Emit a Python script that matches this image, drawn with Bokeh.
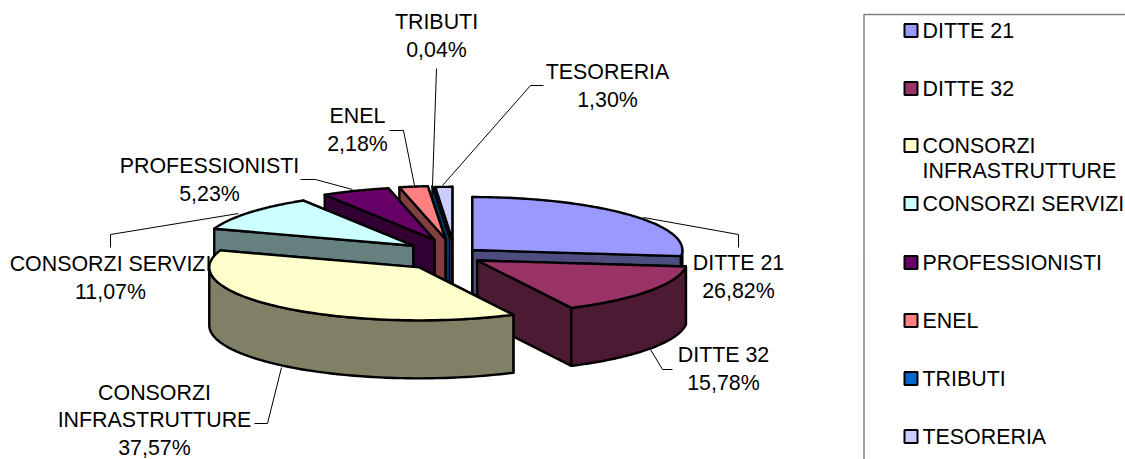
import numpy as np
from bokeh.plotting import figure
from bokeh.embed import file_html
from bokeh.resources import INLINE
from bokeh.core.properties import value

# ---- data ----
categories = ["DITTE 21", "DITTE 32", "CONSORZI INFRASTRUTTURE", "CONSORZI SERVIZI",
              "PROFESSIONISTI", "ENEL", "TRIBUTI", "TESORERIA"]
shares = [26.82, 15.78, 37.57, 11.07, 5.23, 2.18, 0.04, 1.30]

# ---- styles / layout ----
top_colors = ["#9999FF", "#993366", "#FFFFCC", "#CCFFFF", "#660066", "#FF8080", "#0066CC", "#CCCCFF"]
wall_colors = ["#4D4D80", "#4D1A33", "#808066", "#668080", "#330033", "#804040", "#003366", "#666680"]
draw_order = [7, 6, 5, 4, 3, 0, 1, 2]
W, H = 1125, 459
CX, CY, RX, RY, DEPTH = 443, 255, 210, 53, 58
EXPLODE_X, EXPLODE_Y = 40, 15.7
nudge = [(-1, 5), (1, -4), (2, 0), (1, 0), (6, -1), (8, -1), (9.5, -1), (10.5, 0)]
slice_lw = [2.4, 2.4, 2.4, 2.4, 2.4, 2.4, 1.4, 2.4]

FONT = value("Liberation Sans")
FS = "21.4px"

p = figure(width=W, height=H, x_range=(0, W), y_range=(H, 0),
           toolbar_location=None, output_backend="svg", min_border=0,
           x_axis_location=None, y_axis_location=None)
p.grid.visible = False
p.outline_line_color = None
p.background_fill_color = "white"

total = sum(shares)
edges = np.concatenate([[0], np.cumsum(shares)]) / total * 2 * np.pi


def rim(t, ax, ay):
    return ax + RX * np.sin(t), ay - RY * np.cos(t)


def poly(xs, ys, color, lw):
    p.patch(list(xs), list(ys), fill_color=color, line_color="black", line_width=lw, line_join="round")


for i in draw_order:
    a0, a1 = edges[i], edges[i + 1]
    mid = (a0 + a1) / 2
    ax = CX + EXPLODE_X * np.sin(mid) + nudge[i][0]
    ay = CY - EXPLODE_Y * np.cos(mid) + nudge[i][1]
    lw = slice_lw[i]
    # radial walls, farther one first
    for a in sorted((a0, a1), key=lambda q: -np.cos(q)):
        rx, ry = rim(a, ax, ay)
        poly([ax, rx, rx, ax], [ay, ry, ry + DEPTH, ay + DEPTH], wall_colors[i], lw)
    # outer wall (front half only)
    lo, hi = max(a0, np.pi / 2), min(a1, 3 * np.pi / 2)
    if hi > lo:
        t = np.linspace(lo, hi, 60)
        x, y = rim(t, ax, ay)
        poly(np.r_[x, x[::-1]], np.r_[y, (y + DEPTH)[::-1]], wall_colors[i], lw)
    # top face
    t = np.linspace(a0, a1, 80)
    x, y = rim(t, ax, ay)
    poly(np.r_[ax, x], np.r_[ay, y], top_colors[i], lw)

# ---- leader lines ----
leaders = [
    ([643, 738, 738], [217, 234, 247]),
    ([650, 662, 672], [349, 369, 369]),
    ([281, 267, 254], [367, 423, 423]),
    ([238, 110, 110], [213, 234, 247]),
    ([352, 315, 300], [189, 179, 179]),
    ([414, 403, 389], [185, 130, 130]),
    ([432, 436], [185, 68]),
    ([442, 530, 543], [185, 85, 85]),
]
for lx, ly in leaders:
    p.line(lx, ly, line_color="black", line_width=1)

# ---- data labels ----
pct = [f"{s:.2f}".replace(".", ",") + "%" for s in shares]
label_lines = [["DITTE 21"], ["DITTE 32"], ["CONSORZI", "INFRASTRUTTURE"], ["CONSORZI SERVIZI"],
               ["PROFESSIONISTI"], ["ENEL"], ["TRIBUTI"], ["TESORERIA"]]
label_pos = [(738, 262), (723, 354), (154, 392), (110, 263), (209, 165), (357, 115), (436, 21), (607, 71)]
for lines, (lx, ly), s in zip(label_lines, label_pos, pct):
    rows = lines + [s]
    step = 27.5 if len(rows) == 3 else 28
    p.text([lx] * len(rows), [ly + k * step for k in range(len(rows))], text=rows,
           text_font=FONT, text_font_size=FS, text_color="black",
           text_align="center", text_baseline="middle")

# ---- legend ----
p.line([1125, 863.5, 863.5], [14, 14, 459], line_color="#808080", line_width=1.5)
legend_y = [30, 88, 145, 203, 262, 320, 378, 436]
for i, ly in enumerate(legend_y):
    p.rect([910.5], [ly], width=13, height=13, fill_color=top_colors[i], line_color="black", line_width=2)
    rows = label_lines[i]
    p.text([922] * len(rows), [ly + k * 25 for k in range(len(rows))], text=rows,
           text_font=FONT, text_font_size=FS, text_color="black",
           text_align="left", text_baseline="middle")

open("out.html", "w").write(file_html(p, INLINE))
